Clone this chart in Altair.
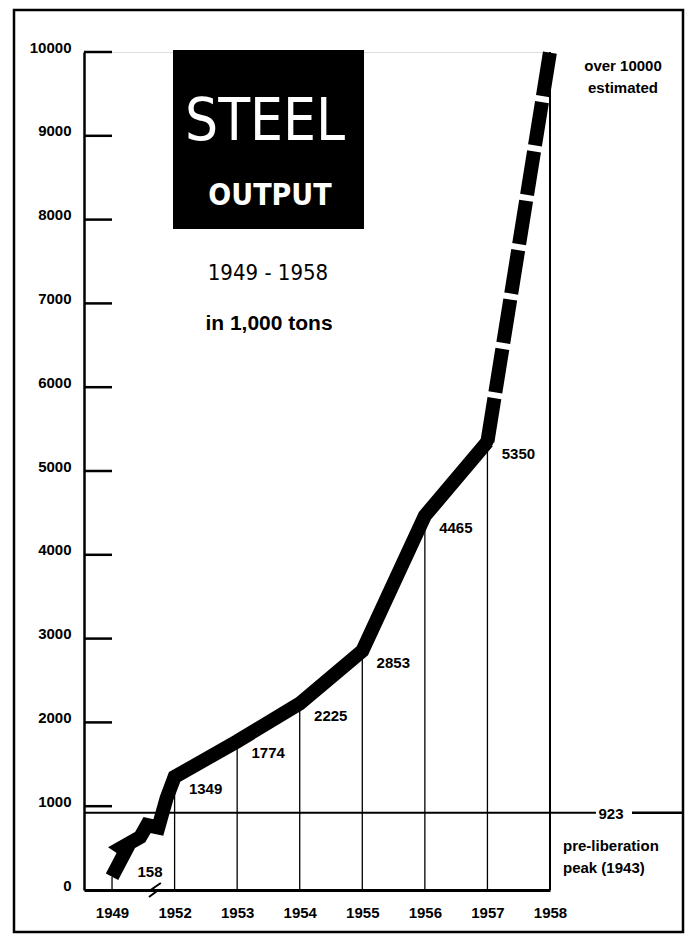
import altair as alt
import pandas as pd

# ---------------- data ----------------
years = ["1949", "1952", "1953", "1954", "1955", "1956", "1957", "1958"]
output = [158, 1349, 1774, 2225, 2853, 4465, 5350, 10000]
value_labels = ["158", "1349", "1774", "2225", "2853", "4465", "5350", ""]
y_ticks = [0, 1000, 2000, 3000, 4000, 5000, 6000, 7000, 8000, 9000, 10000]
peak_value = [923]

# zig-zag "break" drawn into the line between 1949 and 1952 (x in category-index units)
break_pos = [0.22, 0.15, 0.45, 0.56, 0.74, 0.87]
break_val = [470, 505, 630, 775, 745, 1090]
# small break mark on the x axis between 1949 and 1952
axis_break_pos = [0.59, 0.72, 0.64, 0.78]
axis_break_val = [-84, -12, 12, 84]

NUM_FONT = "Liberation Sans"
NARROW = "Liberation Sans Narrow, DejaVu Sans Condensed, sans-serif"

idx = list(range(len(years)))
pts = pd.DataFrame({"pos": idx, "val": output, "year": years, "lab": value_labels})

# solid line 1949 -> 1957 with the break
line_pos = [0] + break_pos + idx[1:7]
line_val = [output[0]] + break_val + output[1:7]
solid = pd.DataFrame({"pos": line_pos, "val": line_val, "seq": list(range(len(line_pos)))})
dashed = pd.DataFrame({"pos": idx[6:8], "val": output[6:8], "seq": [0, 1]})
joint = pd.DataFrame({"pos": [idx[6]], "val": [output[6]]})
abreak = pd.DataFrame({"pos": axis_break_pos, "val": axis_break_val,
                       "seq": list(range(len(axis_break_pos)))})

label_expr = "[" + ",".join("'%s'" % y for y in years) + "][datum.value]"

xs = alt.Scale(domain=[-0.448, 7], nice=False, zero=False)
ys = alt.Scale(domain=[0, 10000], nice=False, zero=False)

x_axis = alt.Axis(values=idx, labelExpr=label_expr, ticks=False, tickSize=0, grid=False,
                  title=None, domainColor="black", domainWidth=3,
                  labelFont=NUM_FONT, labelFontWeight="bold", labelFontSize=15,
                  labelColor="black", labelPadding=27, labelBaseline="alphabetic",
                  labelFlush=False, labelOverlap=False)
y_axis = alt.Axis(values=y_ticks, format="d", ticks=False, tickSize=0, grid=False, title=None,
                  domainColor="black", domainWidth=2.5,
                  labelFont=NUM_FONT, labelFontWeight="bold", labelFontSize=15,
                  labelColor="black", labelPadding=13, labelBaseline="alphabetic",
                  labelAlign="right", labelFlush=False, labelOverlap=False)

X = alt.X("pos:Q", scale=xs, axis=x_axis)
Y = alt.Y("val:Q", scale=ys, axis=y_axis)

one = pd.DataFrame({"a": [0]})

frame = alt.Chart(one).mark_rect(filled=False, stroke="black", strokeWidth=2.5).encode(
    x=alt.value(-70), x2=alt.value(599), y=alt.value(-42), y2=alt.value(880))

title_box = alt.Chart(one).mark_rect(color="black").encode(
    x=alt.value(89), x2=alt.value(280), y=alt.value(-2), y2=alt.value(177))

def txt(text, x, y, size, weight="normal", color="black", font=NUM_FONT, align="center"):
    return alt.Chart(one).mark_text(text=text, font=font, fontSize=size, fontWeight=weight,
                                    color=color, align=align, baseline="alphabetic").encode(
        x=alt.value(x), y=alt.value(y))

t_steel = txt("STEEL", 181, 88, 58, "normal", "white", NARROW)
t_output = txt("OUTPUT", 186, 153, 30, "bold", "white", NARROW)
t_years = txt("1949 - 1958", 184, 228, 22, "normal", "black", NARROW)
t_units = txt("in 1,000 tons", 185, 278, 21, "bold", "black", NUM_FONT)
t_over = txt("over 10000", 539, 19, 15, "bold")
t_est = txt("estimated", 539, 41, 15, "bold")
t_pre = txt("pre-liberation", 479, 799, 15, "bold", align="left")
t_peak = txt("peak  (1943)", 479, 821, 15, "bold", align="left")

ytick_df = pd.DataFrame({"val": y_ticks[1:]})
inner_ticks = alt.Chart(ytick_df).mark_rule(color="black", strokeWidth=2.5).encode(
    y=Y, x=alt.value(0), x2=alt.value(28))

peak_df = pd.DataFrame({"val": peak_value, "lab": [str(v) for v in peak_value]})
peak_left = alt.Chart(peak_df).mark_rule(color="black", strokeWidth=2).encode(
    y=Y, x=alt.value(0), x2=alt.value(512))
peak_right = alt.Chart(peak_df).mark_rule(color="black", strokeWidth=2.5).encode(
    y=Y, x=alt.value(548), x2=alt.value(599))
peak_text = alt.Chart(peak_df).mark_text(font=NUM_FONT, fontSize=15, fontWeight="bold",
                                         baseline="middle", dy=1, color="black").encode(
    y=Y, x=alt.value(527), text="lab:N")

drops = alt.Chart(pts).mark_rule(color="black").encode(
    x=X, y=Y, y2=alt.datum(0),
    strokeWidth=alt.condition(alt.datum.year == "1958", alt.value(2), alt.value(1.3)))

main_line = alt.Chart(solid).mark_line(color="black", strokeWidth=14, strokeCap="butt",
                                       strokeJoin="miter", strokeMiterLimit=3).encode(
    x=X, y=Y, order="seq:Q")
dash_line = alt.Chart(dashed).mark_line(color="black", strokeWidth=14, strokeCap="butt",
                                        strokeDash=[44, 6]).encode(
    x=X, y=Y, order="seq:Q")
joint_dot = alt.Chart(joint).mark_point(filled=True, color="black", opacity=1,
                                        size=150, shape="circle").encode(x=X, y=Y)

labels_main = alt.Chart(pts).transform_filter(
    (alt.datum.pos > 0) & (alt.datum.lab != "")).mark_text(
    font=NUM_FONT, fontSize=15, fontWeight="bold", dx=31, dy=17,
    baseline="alphabetic", color="black").encode(x=X, y=Y, text="lab:N")
labels_first = alt.Chart(pts).transform_filter(alt.datum.pos == 0).mark_text(
    font=NUM_FONT, fontSize=15, fontWeight="bold", dx=38, dy=0,
    baseline="alphabetic", color="black").encode(x=X, y=Y, text="lab:N")

axis_break = alt.Chart(abreak).mark_line(color="black", strokeWidth=2).encode(
    x=X, y=Y, order="seq:Q")

chart = alt.layer(
    frame, title_box, inner_ticks, peak_left, peak_right, peak_text, drops,
    main_line, dash_line, joint_dot, labels_main, labels_first, axis_break,
    t_steel, t_output, t_years, t_units, t_over, t_est, t_pre, t_peak,
).properties(
    width=466, height=838, autosize="none",
    padding={"left": 76, "top": 44, "right": 135, "bottom": 44},
).configure_view(stroke=None).configure(background="white")

chart.save("out.html", embed_options={"renderer": "svg", "actions": False})
